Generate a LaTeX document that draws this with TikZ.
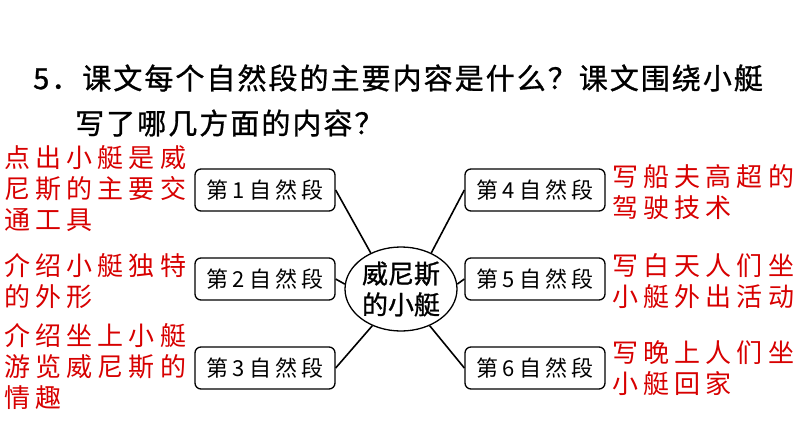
\documentclass[tikz,border=0pt]{standalone}
\usepackage{fontspec}
\setmainfont{Noto Sans CJK SC}
\usepackage{tikz}
\usetikzlibrary{positioning,shapes.geometric}
\definecolor{notered}{RGB}{215,0,0}

\begin{document}
\begin{tikzpicture}[x=1pt,y=-1pt,
  parabox/.style={draw, line width=1.3pt, rounded corners=6pt, minimum width=140pt, minimum height=42pt,
    font=\fontsize{22}{26}\selectfont\addfontfeature{LetterSpace=18}},
  notetext/.style={text=notered, align=left, anchor=north west, inner sep=0pt,
    font=\fontsize{26}{31}\selectfont\addfontfeature{LetterSpace=20}},
  link/.style={line width=1.6pt}]
\useasboundingbox (0,0) rectangle (794,447);

% Question
\node[anchor=west, inner sep=0pt, font=\fontsize{29}{34}\selectfont\addfontfeature{LetterSpace=7,FakeBold=1}] (q1) at (33,78) {5．课文每个自然段的主要内容是什么？课文围绕小艇};
\node[anchor=west, inner sep=0pt, font=\fontsize{29}{34}\selectfont\addfontfeature{LetterSpace=7,FakeBold=1}] (q2) at (75,123) {写了哪几方面的内容？};

% Centre
\node[draw, line width=1.3pt, ellipse, minimum width=112pt, minimum height=84pt, align=center, inner sep=0pt,
  font=\fontsize{26}{31}\selectfont\addfontfeature{FakeBold=1}] (boat) at (401,289) {威尼斯\\的小艇};

% Paragraph boxes
\node[parabox] (p1) at (265,190) {第1自然段};
\node[parabox] (p2) at (265,279) {第2自然段};
\node[parabox] (p3) at (265,368) {第3自然段};
\node[parabox] (p4) at (535,190) {第4自然段};
\node[parabox] (p5) at (535,279) {第5自然段};
\node[parabox] (p6) at (535,368) {第6自然段};

% Links
\draw[link] (p1.east) -- (boat.130);
\draw[link] (p2.east) -- (boat.175);
\draw[link] (p3.east) -- (boat.232);
\draw[link] (p4.west) -- (boat.50);
\draw[link] (p5.west) -- (boat.5);
\draw[link] (p6.west) -- (boat.308);

% Notes
\node[notetext] (n1) at (4,145) {点出小艇是威\\尼斯的主要交\\通工具};
\node[notetext] (n2) at (4,253) {介绍小艇独特\\的外形};
\node[notetext] (n3) at (4,323) {介绍坐上小艇\\游览威尼斯的\\情趣};
\node[notetext] (n4) at (612,164) {写船夫高超的\\驾驶技术};
\node[notetext] (n5) at (612,253) {写白天人们坐\\小艇外出活动};
\node[notetext] (n6) at (612,340) {写晚上人们坐\\小艇回家};
\end{tikzpicture}
\end{document}
